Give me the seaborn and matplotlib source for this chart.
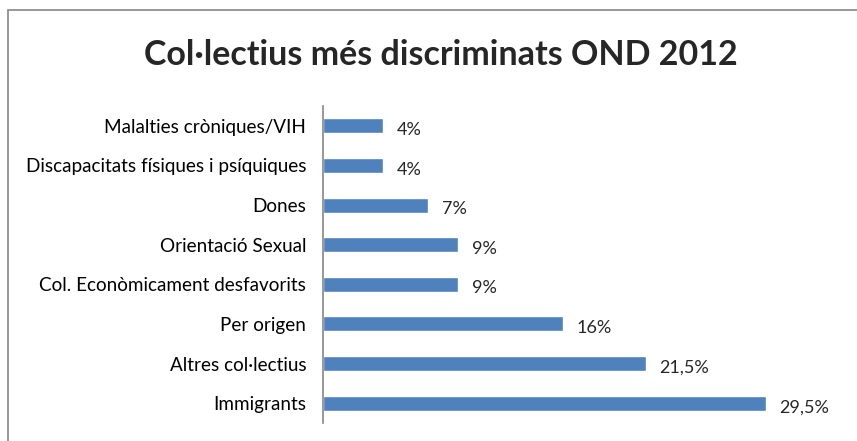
import matplotlib
matplotlib.use('Agg')
import matplotlib.pyplot as plt
import matplotlib.patches as mpatches
import seaborn as sns
import pandas as pd

# Data
categories = ['Malalties cròniques/VIH', 'Discapacitats físiques i psíquiques', 'Dones',
              'Orientació Sexual', 'Col. Econòmicament desfavorits', 'Per origen',
              'Altres col·lectius', 'Immigrants']
values = [4, 4, 7, 9, 9, 16, 21.5, 29.5]
value_labels = ['4%', '4%', '7%', '9%', '9%', '16%', '21,5%', '29,5%']

df = pd.DataFrame({'Col·lectiu': categories, 'Percent': values})

sns.set_style('white')
plt.rcParams['font.family'] = ['Lato', 'DejaVu Sans']

fig = plt.figure(figsize=(8.57, 4.41), dpi=100)
W, H = 857, 441
ax = fig.add_axes([323 / W, 1 - 423 / H, 507 / W, 317 / H])

sns.barplot(data=df, y='Col·lectiu', x='Percent', orient='h', color='#4F81BD',
            saturation=1, width=0.38, ax=ax)

ax.set_xlim(0, 33.8)
ax.set_ylim(7.5, -0.5)
ax.set_xlabel('')
ax.set_ylabel('')
ax.set_xticks([])
ax.tick_params(axis='y', length=0, pad=12, labelsize=13.6, colors='#000000')
for side in ['top', 'right', 'bottom']:
    ax.spines[side].set_visible(False)
ax.spines['left'].set_color('#868686')
ax.spines['left'].set_linewidth(1.2)

for i, (v, lab) in enumerate(zip(values, value_labels)):
    ax.annotate(lab, (v, i), xytext=(10, -3), textcoords='offset points',
                ha='left', va='center', fontsize=13)

fig.text(441 / W, 1 - 55 / H, 'Col·lectius més discriminats OND 2012',
         ha='center', va='center', fontsize=24.5, fontweight='bold')

# chart border
fig.patches.append(mpatches.Rectangle((8 / W, -0.05), 1.0, 1 - 10 / H + 0.05,
                                      transform=fig.transFigure, fill=False,
                                      edgecolor='#868686', linewidth=1.2))

fig.savefig('out.png', dpi=100)
